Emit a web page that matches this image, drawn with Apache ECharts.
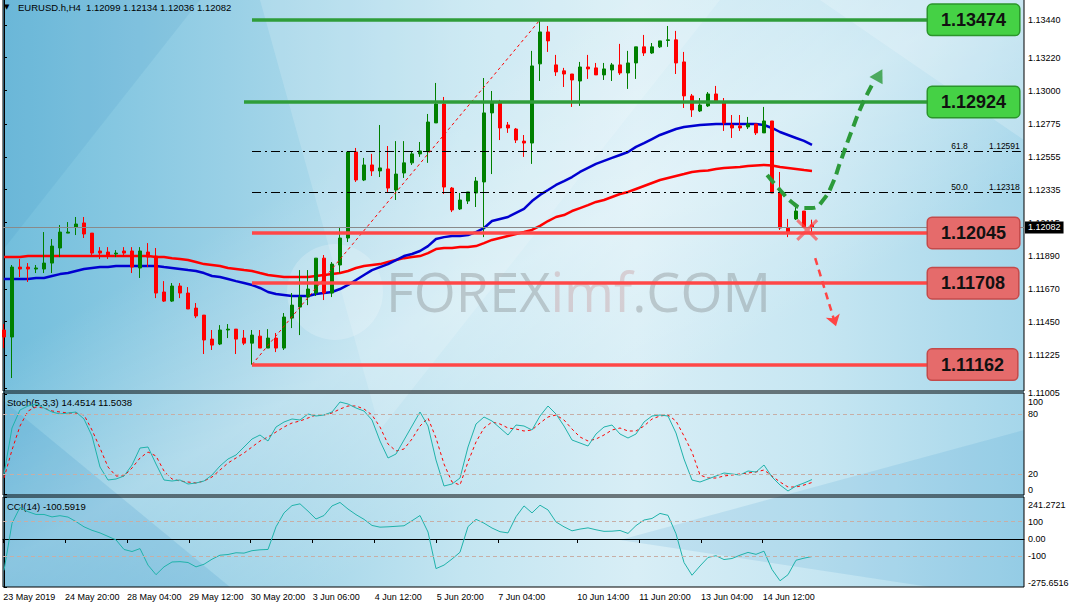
<!DOCTYPE html>
<html><head><meta charset="utf-8">
<script src="https://cdn.jsdelivr.net/npm/echarts@6/dist/echarts.min.js"></script>
<style>
html,body{margin:0;padding:0;background:#fff;}
#wrap{position:relative;width:1072px;height:610px;overflow:hidden;background:#fff;}
#bg{position:absolute;left:3px;top:0;width:1021px;height:587px;
background:
 linear-gradient(150deg, rgba(255,255,255,0) 30%, rgba(255,255,255,0.30) 48%, rgba(255,255,255,0) 66%),
 linear-gradient(to right, #72bedc 0%, #99d0e6 22%, #c3e5f1 45%, #d8eef6 62%, #c6e6f2 80%, #a5d6ea 100%);}
#chart{position:absolute;left:0;top:0;width:1072px;height:610px;}
</style></head><body>
<div id="wrap"><div id="bg"></div><div id="chart"></div></div>
<script>
// ---------------- DATA ----------------
const quoteSymbol = 'EURUSD.h,H4';
const quoteOHLC = [1.12099, 1.12134, 1.12036, 1.12082];
const stochParams = 'Stoch(5,3,3)';
const stochLast = [14.4514, 11.5038];
const cciParams = 'CCI(14)';
const cciLast = -100.5919;

const opens = [1.11394,1.11347,1.11816,1.11816,1.11803,1.11803,1.11843,1.11944,1.12044,1.12085,
1.12112,1.12044,1.11924,1.11917,1.11904,1.11924,1.11924,1.11810,1.11917,1.11890,
1.11649,1.11588,1.11689,1.11642,1.11541,1.11494,1.11333,1.11300,1.11394,1.11400,
1.11340,1.11306,1.11353,1.11273,1.11340,1.11273,1.11474,1.11548,1.11615,1.11642,
1.11876,1.11642,1.11830,1.12011,1.12588,1.12400,1.12501,1.12461,1.12474,1.12333,
1.12447,1.12515,1.12575,1.12595,1.12783,1.12910,1.12346,1.12206,1.12259,1.12313,
1.12387,1.12850,1.12917,1.12769,1.12742,1.12661,1.12648,1.13179,1.13393,1.13172,
1.13132,1.13111,1.13064,1.13158,1.13152,1.13105,1.13138,1.13172,1.13118,1.13185,
1.13293,1.13252,1.13293,1.13336,1.13340,1.13192,1.12964,1.12863,1.12897,1.12977,
1.12924,1.12769,1.12763,1.12756,1.12776,1.12716,1.12796,1.12313,1.12078,1.12139,
1.12192,1.12099];
const highs = [1.11434,1.11830,1.11870,1.11843,1.11830,1.12051,1.12004,1.12098,1.12118,1.12152,
1.12152,1.12044,1.11950,1.11950,1.11930,1.11950,1.11950,1.11950,1.11977,1.11944,
1.11722,1.11709,1.11709,1.11682,1.11575,1.11494,1.11394,1.11427,1.11434,1.11400,
1.11394,1.11394,1.11394,1.11400,1.11374,1.11508,1.11642,1.11796,1.11796,1.11876,
1.11897,1.11850,1.12085,1.12588,1.12615,1.12548,1.12575,1.12769,1.12628,1.12661,
1.12661,1.12588,1.12655,1.12843,1.13051,1.12957,1.12353,1.12313,1.12320,1.12420,
1.13084,1.12997,1.12937,1.12789,1.12749,1.12702,1.13266,1.13474,1.13433,1.13239,
1.13152,1.13111,1.13192,1.13239,1.13185,1.13185,1.13185,1.13313,1.13266,1.13293,
1.13373,1.13319,1.13333,1.13433,1.13400,1.13259,1.12977,1.12950,1.12990,1.13031,
1.12950,1.12836,1.12836,1.12823,1.12776,1.12890,1.12796,1.12454,1.12139,1.12219,
1.12192,1.12134];
const lows = [1.11273,1.11072,1.11749,1.11716,1.11776,1.11776,1.11776,1.11883,1.12044,1.12031,
1.12011,1.11897,1.11870,1.11870,1.11883,1.11897,1.11776,1.11743,1.11816,1.11608,
1.11582,1.11582,1.11608,1.11535,1.11474,1.11233,1.11260,1.11293,1.11340,1.11233,
1.11293,1.11162,1.11273,1.11273,1.11246,1.11260,1.11407,1.11360,1.11561,1.11622,
1.11595,1.11615,1.11776,1.11984,1.12387,1.12393,1.12427,1.12420,1.12313,1.12266,
1.12414,1.12501,1.12555,1.12515,1.12783,1.12306,1.12185,1.12199,1.12239,1.12219,
1.12017,1.12440,1.12668,1.12716,1.12648,1.12555,1.12508,1.13064,1.13259,1.13098,
1.13024,1.12890,1.12897,1.13078,1.13105,1.13071,1.13064,1.13105,1.13011,1.13078,
1.13232,1.13246,1.13286,1.13293,1.13111,1.12883,1.12823,1.12856,1.12890,1.12924,
1.12729,1.12682,1.12729,1.12742,1.12702,1.12716,1.12313,1.12065,1.12017,1.12132,
1.12085,1.12036];
const closes = [1.11347,1.11816,1.11803,1.11803,1.11810,1.11843,1.11957,1.12051,1.12051,1.12105,
1.12038,1.11910,1.11910,1.11897,1.11910,1.11910,1.11816,1.11924,1.11883,1.11642,
1.11588,1.11689,1.11642,1.11535,1.11488,1.11327,1.11293,1.11394,1.11400,1.11333,
1.11306,1.11360,1.11273,1.11340,1.11273,1.11481,1.11561,1.11615,1.11669,1.11876,
1.11642,1.11836,1.12011,1.12588,1.12400,1.12501,1.12461,1.12481,1.12346,1.12440,
1.12515,1.12575,1.12595,1.12789,1.12910,1.12353,1.12199,1.12266,1.12320,1.12393,
1.12850,1.12917,1.12749,1.12749,1.12668,1.12648,1.13165,1.13393,1.13333,1.13125,
1.13111,1.13071,1.13158,1.13145,1.13105,1.13145,1.13172,1.13118,1.13185,1.13293,
1.13252,1.13293,1.13333,1.13340,1.13185,1.12964,1.12870,1.12903,1.12977,1.12924,
1.12783,1.12749,1.12749,1.12776,1.12716,1.12796,1.12313,1.12078,1.12051,1.12192,
1.12085,1.12082];

const maBlue = [1.11736,1.11736,1.11736,1.11736,1.11743,1.11743,1.11756,1.11769,1.11776,1.11790,
1.11803,1.11810,1.11816,1.11816,1.11823,1.11823,1.11823,1.11823,1.11823,1.11823,
1.11816,1.11810,1.11803,1.11796,1.11790,1.11776,1.11756,1.11749,1.11736,1.11722,
1.11709,1.11696,1.11676,1.11649,1.11635,1.11629,1.11622,1.11622,1.11622,1.11635,
1.11642,1.11649,1.11669,1.11696,1.11729,1.11763,1.11796,1.11816,1.11836,1.11863,
1.11890,1.11904,1.11924,1.11957,1.12004,1.12017,1.12024,1.12024,1.12031,1.12051,
1.12078,1.12125,1.12139,1.12152,1.12179,1.12206,1.12259,1.12300,1.12333,1.12367,
1.12393,1.12420,1.12454,1.12481,1.12508,1.12528,1.12548,1.12568,1.12588,1.12622,
1.12648,1.12675,1.12702,1.12722,1.12742,1.12756,1.12763,1.12769,1.12773,1.12776,
1.12776,1.12776,1.12776,1.12776,1.12776,1.12769,1.12749,1.12722,1.12702,1.12682,
1.12662,1.12635];
const maRed = [1.11883,1.11883,1.11883,1.11890,1.11890,1.11890,1.11890,1.11890,1.11890,1.11890,
1.11890,1.11890,1.11890,1.11890,1.11890,1.11890,1.11890,1.11890,1.11890,1.11883,
1.11883,1.11876,1.11870,1.11863,1.11850,1.11836,1.11830,1.11823,1.11810,1.11803,
1.11796,1.11790,1.11776,1.11763,1.11756,1.11749,1.11749,1.11749,1.11749,1.11756,
1.11763,1.11769,1.11776,1.11790,1.11810,1.11823,1.11830,1.11836,1.11850,1.11863,
1.11876,1.11883,1.11890,1.11910,1.11937,1.11944,1.11944,1.11950,1.11950,1.11957,
1.11977,1.11998,1.12011,1.12024,1.12038,1.12051,1.12065,1.12092,1.12125,1.12152,
1.12165,1.12192,1.12212,1.12232,1.12253,1.12266,1.12286,1.12306,1.12320,1.12340,
1.12360,1.12380,1.12400,1.12414,1.12427,1.12440,1.12454,1.12461,1.12464,1.12474,
1.12481,1.12484,1.12487,1.12494,1.12498,1.12501,1.12498,1.12487,1.12481,1.12474,
1.12467,1.12461];

const stochMain = [20,66,84,88,90,86,82,80,81,82,75,58,27,14,15,18,29,46,47,30,
14,13,14,10,11,13,19,28,35,39,47,55,59,53,67,72,75,74,80,78,
79,82,92,90,86,83,74,53,36,40,54,68,82,68,34,8,10,16,47,70,
77,73,66,59,69,68,64,78,88,80,68,54,51,48,60,67,69,60,56,60,
72,78,79,78,61,35,14,12,15,18,21,20,19,23,22,29,17,9,3,8,
11,14.4514];
const stochSignal = [16,44,68,83,87,86,83,82,81,81,79,64,46,27,18,18,26,36,42,38,
23,15,13,12,11,13,17,24,31,36,41,47,53,57,62,67,71,73,76,79,
79,81,85,88,88,85,79,67,50,43,45,55,68,76,56,30,12,9,32,52,
66,72,70,66,65,63,64,71,77,79,74,65,57,53,55,59,64,66,63,63,
68,75,78,79,73,58,42,19,16,16,18,19,20,21,22,24,18,12,7,7,
9,11.5038];
const cciValues = [-180,90,182,157,141,141,127,134,126,100,70,50,35,15,-5,-60,-72,-55,-150,-205,
-160,-132,-130,-135,-160,-145,-116,-93,-89,-79,-81,-67,-62,-60,70,150,192,202,160,115,
135,190,210,172,140,113,78,68,70,73,76,105,135,40,-170,-150,-115,-76,71,113,
91,63,42,35,128,190,150,194,167,98,70,47,57,64,53,44,45,49,32,77,
109,118,147,136,30,-135,-208,-155,-106,-96,-118,-112,-93,-77,-88,-70,-175,-240,-205,-122,
-110,-100.5919];

// tick labels
const priceTicks = [1.13440,1.13220,1.13000,1.12775,1.12555,1.12335,1.12115,1.11890,1.11670,1.11450,1.11225,1.11005];
const stochTicks = [0,20,80,100];
const stochLevels = [20,80];
const cciTicks = [-275.6516,-100,0,100,241.2721];
const cciLevels = [-100,100];
const timeTickPos = [-0.09,7.62,15.38,23.12,30.84,38.59,46.34,54.09,61.79,71.66,79.41,87.12,94.84];
const timeTickLabels = ['23 May 2019','24 May 20:00','28 May 04:00','29 May 12:00','30 May 20:00','3 Jun 06:00','4 Jun 12:00','5 Jun 20:00','7 Jun 04:00','10 Jun 14:00','11 Jun 20:00','13 Jun 04:00','14 Jun 12:00'];

// annotation levels (bar index, price)
const greenLevels = [[31,1.13474],[30,1.12924]];
const redLevels = [[31,1.12045],[31,1.11708],[31,1.11162]];
const levelEnd = 115.5;
const fibLevels = [['61.8',1.12591],['50.0',1.12318]];
const fibStartIdx = 31, fibEndIdx = 127.1;
const fibDiagonal = [[31,1.11162],[67,1.13474]];
const lastPrice = 1.12082;
const greenCurve = [[95.4,1.12434],[97,1.12333],[98.6,1.12246],[99.9,1.12212],[101,1.12212],[102.4,1.12266],[103.6,1.12380],[104.5,1.12515],[106,1.12735],[107.25,1.12903],[108.5,1.13038]];
const greenArrowTip = [109.4,1.13105];
const redArrow = [[101.4,1.11876],[104.0,1.11420]];
const crossMark = [100.4,1.12065];

// ---------------- CHART ----------------
const XMIN = -0.125, XMAX = 127.5;
const FONT = 'Liberation Sans';
const chart = echarts.init(document.getElementById('chart'), null, {renderer:'svg', width:1072, height:610});

const gridBase = {left:3, right:48, show:true, borderColor:'#000', borderWidth:1, backgroundColor:'transparent', containLabel:false, outerBoundsMode:'none'};
const xAx = (gi, showLabels) => ({
  type:'value', gridIndex:gi, min:XMIN, max:XMAX,
  splitLine:{show:false}, axisLine:{show:showLabels, lineStyle:{color:'#000'}},
  axisTick:{show:showLabels, customValues:timeTickPos, length:4, lineStyle:{color:'#000'}},
  axisLabel:{show:showLabels, customValues:timeTickPos, align:'left', margin:5, fontSize:9, color:'#000', fontFamily:FONT,
    formatter:(v)=>{const k=timeTickPos.findIndex(p=>Math.abs(p-v)<1e-6);return k>=0?timeTickLabels[k]:'';}}
});
const yAx = (gi, min, max, ticks, fmt, pad) => ({
  type:'value', gridIndex:gi, position:'right', min, max,
  splitLine:{show:false}, axisLine:{show:true, lineStyle:{color:'#000'}},
  axisTick:{show:true, customValues:ticks, length:3, lineStyle:{color:'#000'}},
  axisLabel:{customValues:ticks, margin:4, fontSize:9, color:'#000', fontFamily:FONT, formatter:fmt, padding:pad,
    verticalAlignMaxLabel:'top', verticalAlignMinLabel:'bottom'}
});

const idx = (arr)=>arr.map((v,i)=>[i,v]);
const levelSeries = (levels, color, boxBg, boxBorder) => ({
  type:'line', xAxisIndex:0, yAxisIndex:0, data:[], silent:true, z:5,
  markLine:{silent:true, animation:false, precision:5, symbol:['none','none'],
    lineStyle:{color, width:3.5, type:'solid', opacity:1},
    label:{show:true, position:'end', distance:0, formatter:'{b}', backgroundColor:boxBg, borderColor:boxBorder, borderWidth:1.5, borderRadius:4,
      padding:[6,13], color:'#111', fontSize:18, fontWeight:'bold', fontFamily:FONT},
    emphasis:{disabled:true},
    data: levels.map(l=>[{name:l[1].toFixed(5), coord:[l[0], l[1]]},{coord:[levelEnd, l[1]]}])
  }
});

const option = {
  animation:false,
  backgroundColor:'transparent',
  grid:[
    Object.assign({}, gridBase, {top:-1, height:392}),
    Object.assign({}, gridBase, {top:393, height:102}),
    Object.assign({}, gridBase, {top:497, height:90})
  ],
  xAxis:[xAx(0,false), xAx(1,false), xAx(2,true)],
  yAxis:[
    yAx(0, 1.10985, 1.13614, priceTicks, v=>v.toFixed(5), 0),
    yAx(1, -1, 101, stochTicks, v=>String(Math.round(v)), [3,0,0,0]),
    yAx(2, -275.6516, 241.2721, cciTicks, v=>v===0?'0.00':(Math.abs(v)===100?String(v):v.toFixed(4)), [3,0,0,0])
  ],
  graphic:[
    {type:'polygon', z:-10, silent:true, shape:{points:[[260,0],[720,0],[380,430]]}, style:{fill:'rgba(255,255,255,0.16)'}},
    {type:'polygon', z:-10, silent:true, shape:{points:[[3,0],[200,0],[3,250]]}, style:{fill:'rgba(40,130,190,0.10)'}},
    {type:'polygon', z:-10, silent:true, shape:{points:[[820,0],[1024,0],[1024,140]]}, style:{fill:'rgba(255,255,255,0.20)'}},
    {type:'polygon', z:-10, silent:true, shape:{points:[[620,540],[1024,430],[1024,587],[930,587]]}, style:{fill:'rgba(40,140,200,0.13)'}},
    {type:'polygon', z:-10, silent:true, shape:{points:[[3,400],[230,587],[3,587]]}, style:{fill:'rgba(30,130,190,0.14)'}},
    {type:'circle', z:-5, silent:true, shape:{cx:335, cy:292, r:48}, style:{fill:'rgba(255,255,255,0.20)'}},
    {type:'text', z:-4, silent:true, left:386, top:264, style:{text:'{a|FOREX}{b|imf}{a|.COM}', rich:{
      a:{fontSize:54, fontFamily:'Open Sans', fill:'rgba(105,105,105,0.30)'},
      b:{fontSize:54, fontFamily:'Open Sans', fill:'rgba(190,120,120,0.28)'}}}},
    {type:'text', left:4, top:3, silent:true, style:{text:'\u25BC', fontSize:7, fill:'#000', fontFamily:'DejaVu Sans'}},
    {type:'text', left:18, top:2, silent:true, style:{text:quoteSymbol+'  '+quoteOHLC.map(v=>v.toFixed(5)).join(' '), fontSize:9.5, fill:'#000', fontFamily:FONT}},
    {type:'text', left:7, top:397, silent:true, style:{text:stochParams+' '+stochLast.map(v=>v.toFixed(4)).join(' '), fontSize:9.5, fill:'#000', fontFamily:FONT}},
    {type:'text', left:7, top:501, silent:true, style:{text:cciParams+' '+cciLast.toFixed(4), fontSize:9.5, fill:'#000', fontFamily:FONT}}
  ],
  series:[
    // current price line + axis box
    {type:'line', xAxisIndex:0, yAxisIndex:0, data:[], silent:true, z:8,
     markLine:{silent:true, symbol:['none','none'], animation:false, precision:5,
       lineStyle:{color:'#8a8a8a', width:1, type:'solid'},
       label:{show:true, position:'end', distance:1, formatter:'{b}', backgroundColor:'#000', color:'#fff', padding:[2,3,1,3], fontSize:9, fontFamily:FONT},
       data:[{name:lastPrice.toFixed(5), yAxis:lastPrice}]}},
    // fib dash-dot levels
    {type:'line', xAxisIndex:0, yAxisIndex:0, data:[], silent:true,
     markLine:{silent:true, symbol:['none','none'], animation:false, precision:5,
       lineStyle:{color:'#000', width:1, type:[9,4,2,4]},
       label:{show:true, position:'insideEndTop', distance:1, formatter:'{b}', fontSize:8.5, color:'#000', fontFamily:FONT},
       data: fibLevels.map(f=>[{name:f[0]+'\u00A0\u00A0\u00A0\u00A0\u00A0\u00A0\u00A0\u00A0\u00A0'+f[1].toFixed(5), coord:[fibStartIdx, f[1]]},{coord:[fibEndIdx, f[1]]}])}},
    // fib diagonal
    {type:'line', xAxisIndex:0, yAxisIndex:0, data:[], silent:true,
     markLine:{silent:true, symbol:['none','none'], animation:false, precision:5,
       lineStyle:{color:'#ff0000', width:1, type:[3,3]}, label:{show:false},
       data:[[{coord:fibDiagonal[0]},{coord:fibDiagonal[1]}]]}},
    // moving averages
    {type:'line', xAxisIndex:0, yAxisIndex:0, data:idx(maRed), symbol:'none', silent:true, lineStyle:{color:'#ff0000', width:2.5}, z:3},
    {type:'line', xAxisIndex:0, yAxisIndex:0, data:idx(maBlue), symbol:'none', silent:true, lineStyle:{color:'#0000d0', width:2.5}, z:3},
    // candles
    {type:'candlestick', xAxisIndex:0, yAxisIndex:0, barWidth:4, silent:true, z:4,
     itemStyle:{color:'#008000', color0:'#ff0000', borderColor:'#008000', borderColor0:'#ff0000', borderWidth:1},
     data: opens.map((o,i)=>[i, o, closes[i], lows[i], highs[i]])},
    levelSeries(greenLevels, '#2f9d3a', '#45d145', '#2b952b'),
    levelSeries(redLevels, '#ff4747', '#e56b6b', '#c44a4a'),
    // green dashed curve + arrowhead
    {type:'line', xAxisIndex:0, yAxisIndex:0, data:greenCurve, smooth:0.5, symbol:'none', silent:true, z:6,
     lineStyle:{color:'#2c9a3a', width:4, type:[11,6]}},
    {type:'scatter', xAxisIndex:0, yAxisIndex:0, data:[greenArrowTip], symbol:'triangle', symbolSize:[15,13], symbolRotate:-29, silent:true, z:6,
     itemStyle:{color:'#2c9a3a'}},
    // red dashed arrow
    {type:'line', xAxisIndex:0, yAxisIndex:0, data:[], silent:true, z:6,
     markLine:{silent:true, symbol:['none','arrow'], symbolSize:11, animation:false, precision:5,
       lineStyle:{color:'#ff4545', width:2.5, type:[7,5]}, label:{show:false},
       data:[[{coord:redArrow[0]},{coord:redArrow[1]}]]}},
    // red cross
    {type:'scatter', xAxisIndex:0, yAxisIndex:0, data:[crossMark], silent:true, z:7,
     symbol:'path://M2,0 L10,8 L18,0 L20,2 L12,10 L20,18 L18,20 L10,12 L2,20 L0,18 L8,10 L0,2 Z', symbolSize:22,
     itemStyle:{color:'rgba(255,70,70,0.85)'}},
    // stochastic
    {type:'line', xAxisIndex:1, yAxisIndex:1, data:idx(stochSignal), symbol:'none', silent:true, lineStyle:{color:'#ff0000', width:1, type:[3,3]},
     markLine:{silent:true, symbol:['none','none'], animation:false, label:{show:false}, lineStyle:{color:'#c7aea6', width:1, type:[4,3]},
       data: stochLevels.map(v=>({yAxis:v}))}},
    {type:'line', xAxisIndex:1, yAxisIndex:1, data:idx(stochMain), symbol:'none', silent:true, lineStyle:{color:'#20b2aa', width:1}},
    // CCI
    {type:'line', xAxisIndex:2, yAxisIndex:2, data:idx(cciValues), symbol:'none', silent:true, lineStyle:{color:'#20b2aa', width:1},
     markLine:{silent:true, symbol:['none','none'], animation:false, label:{show:false}, lineStyle:{color:'#c7aea6', width:1, type:[4,3]},
       data: cciLevels.map(v=>({yAxis:v}))}}
  ]
};
chart.setOption(option);
</script>
</body></html>
